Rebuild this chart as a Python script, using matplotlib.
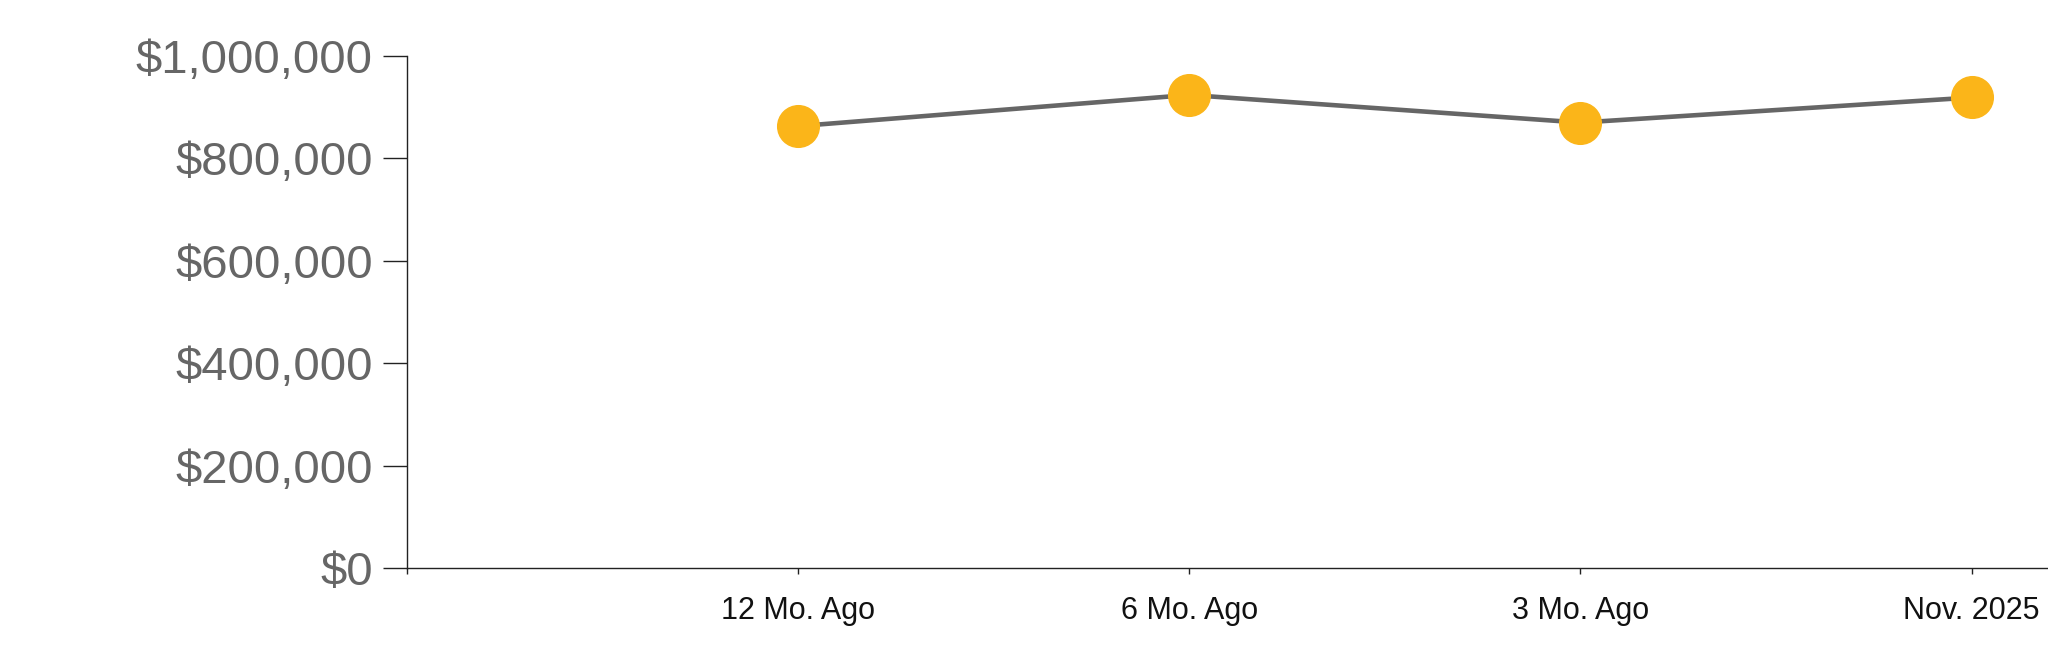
import matplotlib
matplotlib.use("Agg")
import matplotlib.pyplot as plt
from matplotlib.ticker import FuncFormatter

# Values
periods = ["12 Mo. Ago", "6 Mo. Ago", "3 Mo. Ago", "Nov. 2025"]
prices = [863000, 924000, 870000, 919000]
y_ticks = [0, 200000, 400000, 600000, 800000, 1000000]

plt.rcParams['font.family'] = ['Liberation Sans', 'DejaVu Sans']

fig = plt.figure(figsize=(20.48, 6.63), dpi=100)
ax = fig.add_axes([0.1985, 0.1433, 0.8015, 0.7722])

x = list(range(len(periods)))
ax.plot(x, prices, color='#666666', linewidth=3.3, zorder=2)
ax.plot(x, prices, linestyle='none', marker='o', markersize=30,
        color='#FBB519', zorder=3)

ax.set_xlim(-1, 3.195)
ax.set_ylim(0, 1000000)

ax.set_xticks([-1] + x)
ax.set_xticklabels([""] + periods, fontsize=22, color='#111111')
ax.set_yticks(y_ticks)
ax.yaxis.set_major_formatter(FuncFormatter(lambda v, p: "${:,.0f}".format(v)))

ax.tick_params(axis='y', length=17.3, width=1, pad=7, labelsize=34,
               labelcolor='#666666', color='#222222')
ax.tick_params(axis='x', length=4.5, width=1, pad=16, color='#222222')

for side in ['top', 'right']:
    ax.spines[side].set_visible(False)
for side in ['left', 'bottom']:
    ax.spines[side].set_linewidth(1)
    ax.spines[side].set_color('#222222')

fig.savefig("out.png", dpi=100)
